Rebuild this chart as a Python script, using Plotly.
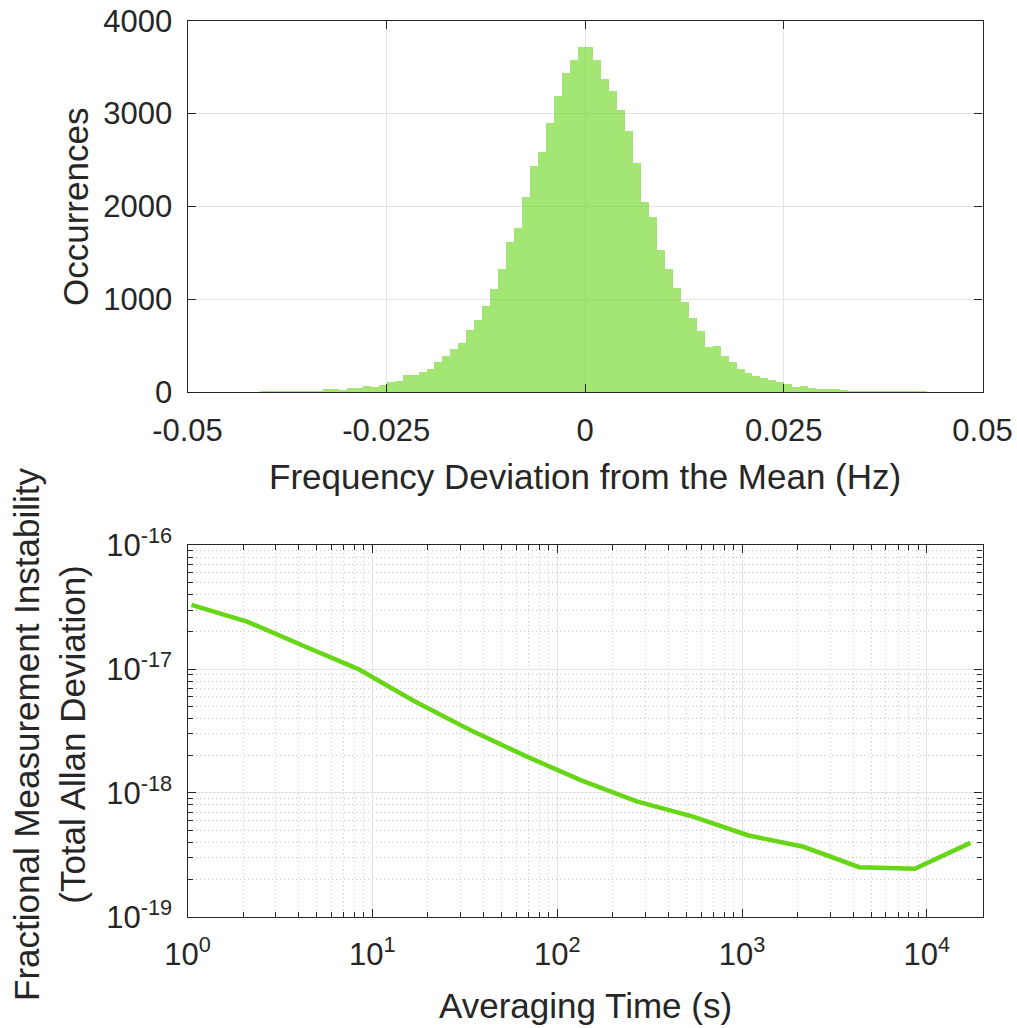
import numpy as np
import plotly.graph_objects as go

# --- histogram of frequency deviation (Hz), 0.001 Hz bins starting at -0.048 ---
bin_start = -0.048
bin_width = 0.001
occurrences = [
    1, 1, 2, 2, 2, 3, 3, 4, 5,            # -0.048 .. -0.040
    6, 8, 12, 14, 18, 12, 36, 40, 30, 43,  # -0.039 .. -0.030
    50, 65, 57, 83, 113, 122, 183, 185, 215, 255,  # -0.029 .. -0.020
    327, 391, 467, 535, 675, 776, 930, 1117, 1329, 1624,  # -0.019 .. -0.010
    1768, 2106, 2436, 2587, 2903, 3190, 3441, 3578, 3718,  # -0.009 .. -0.001
    3725, 3585, 3380, 3244, 3039, 2813, 2468, 2048, 1886, 1530,  # 0.000 .. 0.009
    1332, 1124, 970, 801, 657, 485, 499, 391, 327, 248,  # 0.010 .. 0.019
    208, 176, 158, 129, 113, 93, 57, 66, 48, 34,  # 0.020 .. 0.029
    32, 32, 24, 18, 15, 11, 8, 7, 7, 6,  # 0.030 .. 0.039
    5, 5, 4, 3, 3, 2, 2,  # 0.040 .. 0.046
]
bin_centers = np.round(bin_start + bin_width * (np.arange(len(occurrences)) + 0.5), 4)

# --- total Allan deviation vs averaging time ---
tau = [1.05, 2.1, 4.2, 8.4, 16.8, 33.6, 67.2, 134, 269, 538, 1075, 2150, 4301, 8602, 17204]
tot_adev = [3.30e-17, 2.42e-17, 1.55e-17, 1.0e-17, 5.52e-18, 3.24e-18, 1.99e-18, 1.27e-18,
            8.55e-19, 6.47e-19, 4.55e-19, 3.67e-19, 2.51e-19, 2.44e-19, 3.95e-19]

hist_ticks = [-0.05, -0.025, 0, 0.025, 0.05]
hist_ticktext = ["-0.05", "-0.025", "0", "0.025", "0.05"]
tau_ticks = [1, 10, 100, 1000, 10000]
tau_ticktext = ["10<sup>0</sup>", "10<sup>1</sup>", "10<sup>2</sup>", "10<sup>3</sup>", "10<sup>4</sup>"]
adev_ticks = [1e-19, 1e-18, 1e-17, 1e-16]
adev_ticktext = ["10<sup>-19</sup>", "10<sup>-18</sup>", "10<sup>-17</sup>", "10<sup>-16</sup>"]

green = "rgb(102,214,22)"
axcol = "#262626"
W, H = 1017, 1028
FONT = "Liberation Sans, Arial, Helvetica, sans-serif"

fig = go.Figure()
fig.add_trace(go.Bar(x=bin_centers, y=occurrences, width=bin_width,
                     marker=dict(color=green, opacity=0.6, line=dict(width=0)),
                     xaxis="x", yaxis="y", showlegend=False))
fig.add_trace(go.Scatter(x=tau, y=tot_adev, mode="lines",
                         line=dict(color=green, width=4.5),
                         xaxis="x2", yaxis="y2", showlegend=False))

common = dict(showline=True, linecolor=axcol, linewidth=1.3, mirror="ticks",
              ticks="inside", tickcolor=axcol, tickwidth=1.3, ticklen=8,
              zeroline=False, gridcolor="#e3e3e3", gridwidth=1, automargin=False,
              tickfont=dict(size=31, color=axcol, family=FONT))

x0, x1 = 187.5 / W, 982.5 / W
fig.update_layout(
    width=W, height=H, margin=dict(l=0, r=0, t=0, b=0),
    paper_bgcolor="white", plot_bgcolor="white", bargap=0,
    font=dict(family=FONT, color=axcol),
    xaxis=dict(domain=[x0, x1], anchor="y", range=[-0.05, 0.05],
               tickvals=hist_ticks, ticktext=hist_ticktext, ticklabelstandoff=11, **common),
    yaxis=dict(domain=[1 - 392 / H, 1 - 20.7 / H], anchor="x", range=[0, 4000],
               tickvals=[0, 1000, 2000, 3000, 4000], ticklabelstandoff=8, **common),
    xaxis2=dict(domain=[x0, x1], anchor="y2", type="log", range=[0, np.log10(20000)],
                tickvals=tau_ticks, ticktext=tau_ticktext, ticklabelstandoff=10,
                minor=dict(tickvals=[m * 10 ** e for e in range(0, 5) for m in range(2, 10)],
                           ticks="inside", ticklen=5, tickcolor=axcol, showgrid=True,
                           gridcolor="#c4c4c4", griddash="1px,3px"),
                **common),
    yaxis2=dict(domain=[1 - 916.7 / H, 1 - 545.3 / H], anchor="x2", type="log", range=[-19, -16],
                tickvals=adev_ticks, ticktext=adev_ticktext, ticklabelstandoff=8,
                minor=dict(tickvals=[m * 10.0 ** e for e in range(-19, -16) for m in range(2, 10)],
                           ticks="inside", ticklen=5, tickcolor=axcol, showgrid=True,
                           gridcolor="#c4c4c4", griddash="1px,3px"),
                **common),
)

title_font = dict(size=35, color=axcol, family=FONT)
fig.add_annotation(text="Frequency Deviation from the Mean (Hz)", x=585 / W, y=1 - 476 / H,
                   xref="paper", yref="paper", showarrow=False, font=title_font,
                   xanchor="center", yanchor="middle")
fig.add_annotation(text="Occurrences", x=76 / W, y=1 - 207 / H, textangle=-90,
                   xref="paper", yref="paper", showarrow=False, font=title_font,
                   xanchor="center", yanchor="middle")
fig.add_annotation(text="Averaging Time (s)", x=585 / W, y=1 - 1005 / H,
                   xref="paper", yref="paper", showarrow=False, font=title_font,
                   xanchor="center", yanchor="middle")
fig.add_annotation(text="Fractional Measurement Instability<br>(Total Allan Deviation)",
                   x=49 / W, y=1 - 735 / H, textangle=-90,
                   xref="paper", yref="paper", showarrow=False, font=title_font,
                   xanchor="center", yanchor="middle")

# page body has a default 8px margin; remove it so the figure fills the window
fig.write_html("out.html", config={"displayModeBar": False},
               post_script="document.body.style.margin='0';")
